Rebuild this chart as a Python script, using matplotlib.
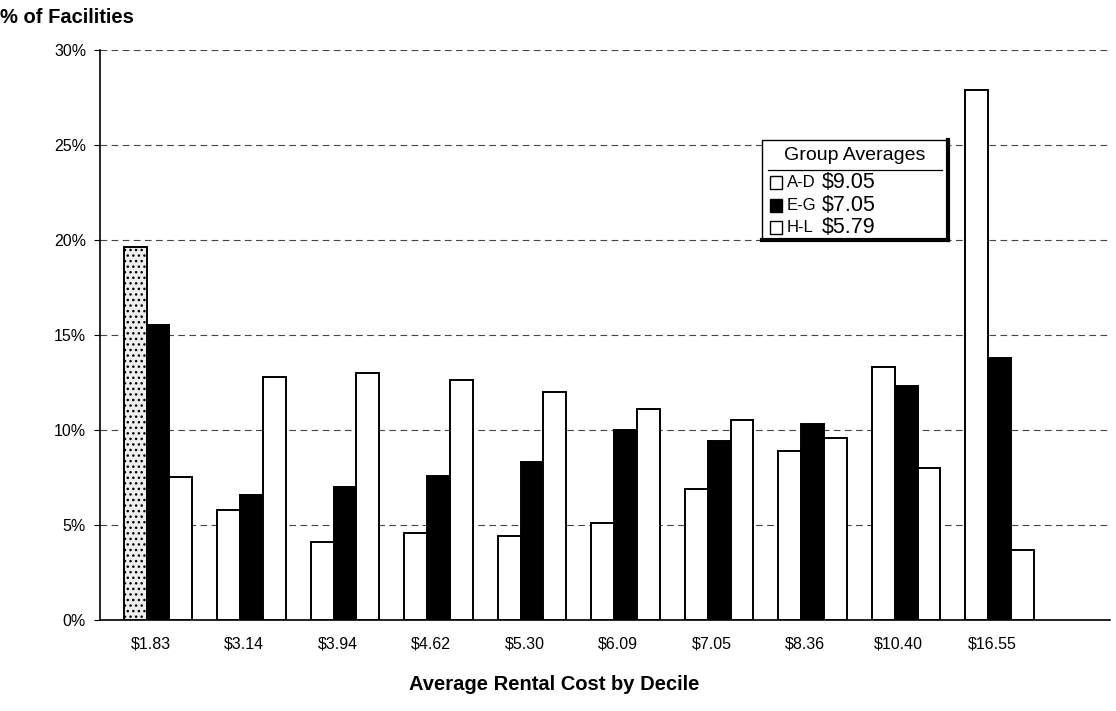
import matplotlib.pyplot as plt
from matplotlib.patches import Rectangle
import numpy as np

plt.rcParams['font.family'] = ['Liberation Sans', 'DejaVu Sans']
plt.rcParams['hatch.color'] = '#999999'

# rental cost deciles and share of facilities (%) for each group
deciles = ['$1.83', '$3.14', '$3.94', '$4.62', '$5.30', '$6.09', '$7.05', '$8.36', '$10.40', '$16.55']
groups = ['A-D', 'E-G', 'H-L']
pct_ad = [19.6, 5.8, 4.1, 4.6, 4.4, 5.1, 6.9, 8.9, 13.3, 27.9]
pct_eg = [15.5, 6.6, 7.0, 7.6, 8.3, 10.0, 9.4, 10.3, 12.3, 13.8]
pct_hl = [7.5, 12.8, 13.0, 12.6, 12.0, 11.1, 10.5, 9.6, 8.0, 3.7]
group_avg = [9.05, 7.05, 5.79]

fig = plt.figure(figsize=(11.16, 7.11), dpi=100)
ax = fig.add_axes([0.0896, 0.128, 0.905, 0.802])

x = np.arange(len(deciles))
w = 0.245
series = [pct_ad, pct_eg, pct_hl]
faces = ['white', 'black', 'white']
for k, (vals, fc) in enumerate(zip(series, faces)):
    bars = ax.bar(x + (k - 1) * w, vals, w, color=fc, edgecolor='black', linewidth=1.4, zorder=3)
    if k == 0:
        bars[0].set_hatch('...')
        bars[0].set_facecolor('#eeeeee')

ax.set_xlim(-0.62, 10.18)
ax.set_ylim(0, 30)
ax.set_yticks(np.arange(0, 31, 5))
ax.set_yticklabels(['%d%%' % v for v in range(0, 31, 5)], fontsize=11.5)
ax.set_xticks(x - 0.08)
ax.set_xticklabels(deciles, fontsize=11.5)
ax.tick_params(axis='x', length=0, pad=12)
ax.tick_params(axis='y', length=4, direction='out', pad=6)
for v in range(5, 31, 5):
    ax.axhline(v, color='#444444', linewidth=0.8, linestyle=(0, (6, 4)), zorder=1)
for s in ['top', 'right']:
    ax.spines[s].set_visible(False)
ax.spines['left'].set_linewidth(1.2)
ax.spines['bottom'].set_linewidth(1.2)

fig.text(0.0, 0.975, '% of Facilities', fontsize=14.5, fontweight='bold', va='center', ha='left')
fig.text(0.497, 0.037, 'Average Rental Cost by Decile', fontsize=14.5, fontweight='bold', va='center', ha='center')

# legend box with group averages
lx0, lx1, ly0, ly1 = 0.655, 0.840, 0.667, 0.842
tr = ax.transAxes
ax.add_patch(Rectangle((lx0, ly0), lx1 - lx0, ly1 - ly0, transform=tr, facecolor='white',
                       edgecolor='black', linewidth=1.0, zorder=5))
ax.plot([lx1, lx1], [ly0, ly1], transform=tr, color='black', linewidth=3, zorder=6, clip_on=False)
ax.plot([lx0, lx1], [ly0, ly0], transform=tr, color='black', linewidth=3, zorder=6, clip_on=False)
ax.text((lx0 + lx1) / 2, 0.815, 'Group Averages', transform=tr, fontsize=14, ha='center', va='center', zorder=7)
ax.plot([lx0 + 0.006, lx1 - 0.006], [0.789, 0.789], transform=tr, color='black', linewidth=0.9, zorder=7)
rows = [0.767, 0.727, 0.688]
for name, avg, fc, yy in zip(groups, group_avg, faces, rows):
    ax.add_patch(Rectangle((lx0 + 0.008, yy - 0.011), 0.012, 0.022, transform=tr, facecolor=fc,
                           edgecolor='black', linewidth=1.0, zorder=7))
    ax.text(lx0 + 0.025, yy, name, transform=tr, fontsize=12, ha='left', va='center', zorder=7)
    ax.text(lx0 + 0.060, yy, '$%.2f' % avg, transform=tr, fontsize=15.5, ha='left', va='center', zorder=7)

fig.savefig('out.png', dpi=100, facecolor='white')
